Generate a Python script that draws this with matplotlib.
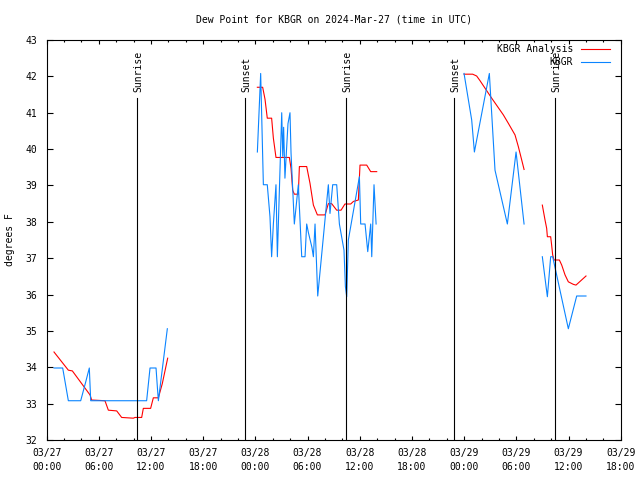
import numpy as np
import matplotlib
matplotlib.use("Agg")
import matplotlib.pyplot as plt
from matplotlib.ticker import MultipleLocator, FixedLocator

nan = np.nan

# hours since 2024-03-27 00:00 UTC
analysis_hours = [0.85, 2.5, 2.96, 4.99, 5.18, 6.71, 7.1, 8.06, 8.63, 9.97, 10.16, 10.93, 11.12, 11.96, 12.27, 12.85,
                  13.3, 13.92, nan,
                  24.23, 24.84, 25.11, 25.37, 25.87, 26.07, 26.37, 27.91, 28.1, 28.29, 28.48, 28.94, 29.06, 29.9,
                  30.28, 30.67, 31.13, 32.01, 32.39, 32.77, 33.35, 33.85, 34.3, 34.96, 35.27, 35.84, 36.03, 36.8,
                  37.26, 37.95, nan,
                  47.99, 48.98, 49.44, 49.83, 51.17, 52.51, 53.08, 53.85, 54.23, 54.62, 54.89, nan,
                  56.99, 57.3, 57.49, 57.57, 57.95, 58.06, 58.18, 58.33, 58.95, 59.22, 59.6, 59.98, 60.56, 60.86,
                  62.01]
analysis_dewpt = [34.42, 33.92, 33.9, 33.24, 33.1, 33.08, 32.82, 32.8, 32.62, 32.6, 32.62, 32.62, 32.87, 32.87, 33.16,
                  33.16, 33.55, 34.25, nan,
                  41.70, 41.70, 41.37, 40.85, 40.85, 40.3, 39.77, 39.77, 39.47, 38.87, 38.76, 38.76, 39.52, 39.52,
                  39.06, 38.46, 38.19, 38.19, 38.5, 38.5, 38.32, 38.32, 38.49, 38.49, 38.56, 38.6, 39.56, 39.56,
                  39.38, 39.38, nan,
                  42.06, 42.06, 42.01, 41.88, 41.40, 40.94, 40.71, 40.39, 40.07, 39.70, 39.44, nan,
                  38.46, 38.05, 37.82, 37.59, 37.59, 37.36, 37.09, 36.95, 36.95, 36.81, 36.54, 36.35, 36.28, 36.26,
                  36.51]

obs_hours = [0.85, 1.85, 2.5, 3.92, 4.5, 4.91, 5.07, 11.5, 11.89, 12.58, 12.75, 12.85, 13.88, nan,
             24.23, 24.61, 24.92, 25.37, 25.68, 25.87, 26.07, 26.37, 26.53, 27.03, 27.15, 27.25, 27.4, 27.75,
             27.98, 28.1, 28.48, 28.94, 29.33, 29.71, 29.9, 30.1, 30.3, 30.5, 30.67, 30.86, 31.17, 32.39, 32.58,
             32.89, 33.35, 33.66, 34.19, 34.35, 34.5, 34.69, 35.96, 36.11, 36.61, 36.92, 37.26, 37.38, 37.64,
             37.88, nan,
             47.99, 48.87, 49.18, 50.9, 51.55, 52.97, 53.97, 54.89, nan,
             56.99, 57.42, 57.57, 57.95, 58.18, 59.98, 60.94, 62.01]
obs_dewpt = [33.98, 33.98, 33.08, 33.08, 33.6, 33.98, 33.08, 33.08, 33.98, 33.98, 33.4, 33.08, 35.06, nan,
             39.92, 42.08, 39.02, 39.02, 38.14, 37.04, 37.94, 39.02, 37.04, 41.0, 39.8, 40.6, 39.2, 40.7,
             41.0, 39.9, 37.94, 39.02, 37.04, 37.04, 37.94, 37.7, 37.5, 37.3, 37.04, 37.94, 35.96, 39.02, 38.23,
             39.02, 39.02, 37.94, 37.22, 36.22, 35.94, 37.5, 39.24, 37.94, 37.94, 37.18, 37.94, 37.04, 39.02,
             37.94, nan,
             42.08, 40.8, 39.92, 42.08, 39.42, 37.94, 39.92, 37.94, nan,
             37.04, 36.22, 35.94, 37.04, 37.04, 35.06, 35.96, 35.96]

event_hours = [10.43, 22.81, 34.42, 46.86, 58.48]
event_labels = ["Sunrise", "Sunset", "Sunrise", "Sunset", "Sunrise"]

tick_hours = [0, 6, 12, 18, 24, 30, 36, 42, 48, 54, 60, 66]
tick_labels = ["03/27\n00:00", "03/27\n06:00", "03/27\n12:00", "03/27\n18:00",
               "03/28\n00:00", "03/28\n06:00", "03/28\n12:00", "03/28\n18:00",
               "03/29\n00:00", "03/29\n06:00", "03/29\n12:00", "03/29\n18:00"]

FONT = "DejaVu Sans Mono"
FS = 7

fig = plt.figure(figsize=(6.4, 4.8), dpi=100)
W, H = 640, 480
L, R, T, B = 46.6, 620.7, 40, 440
ax = fig.add_axes([L / W, 1 - B / H, (R - L) / W, (B - T) / H])

red = "#ff0000"
blue = "#0a84ff"
ax.plot(analysis_hours, analysis_dewpt, color=red, lw=0.8, label="KBGR Analysis")
ax.plot(obs_hours, obs_dewpt, color=blue, lw=0.8, label="KBGR")

ax.set_xlim(0, 66)
ax.set_ylim(32, 43)

line_top = (B - 98) / (B - T)
text_bottom = (B - 92) / (B - T)
trans = ax.get_xaxis_transform()
for hx, lab in zip(event_hours, event_labels):
    ax.plot([hx, hx], [0, line_top], color="black", lw=0.8, transform=trans)
    ax.text(hx + 0.15, text_bottom, lab, rotation=90, ha="center", va="bottom",
            transform=trans, fontsize=FS, family=FONT)

ax.xaxis.set_major_locator(FixedLocator(tick_hours))
ax.set_xticklabels(tick_labels, fontsize=FS, family=FONT, linespacing=1.45)
ax.xaxis.set_minor_locator(MultipleLocator(2))
ax.yaxis.set_major_locator(MultipleLocator(1))
for lab in ax.get_yticklabels():
    lab.set_family(FONT)
    lab.set_fontsize(FS)
ax.tick_params(axis="x", which="major", direction="in", length=3, width=0.8, top=True, pad=6)
ax.tick_params(axis="x", which="minor", direction="in", length=1.5, width=0.8, top=True)
ax.tick_params(axis="y", which="major", direction="in", length=4, width=0.8, right=True, pad=7)
for sp in ax.spines.values():
    sp.set_linewidth(0.8)

fig.text(10 / W, 1 - 240 / H, "degrees F", rotation=90, ha="center", va="center",
         fontsize=FS, family=FONT)
fig.text((L + R) / 2 / W, 1 - 19 / H, "Dew Point for KBGR on 2024-Mar-27 (time in UTC)",
         ha="center", va="center", fontsize=FS, family=FONT)

# legend (gnuplot style: text then line sample)
handles, labels = ax.get_legend_handles_labels()
for i, (hnd, lab) in enumerate(zip(handles, labels)):
    yy = 1 - (49 + 13 * i - T) / (B - T)
    ax.text((573 - L) / (R - L), yy, lab, ha="right", va="center", transform=ax.transAxes,
            fontsize=FS, family=FONT)
    ax.plot([(581 - L) / (R - L), (610 - L) / (R - L)], [yy, yy], color=hnd.get_color(), lw=0.8,
            transform=ax.transAxes)

fig.savefig("out.png", dpi=100)
